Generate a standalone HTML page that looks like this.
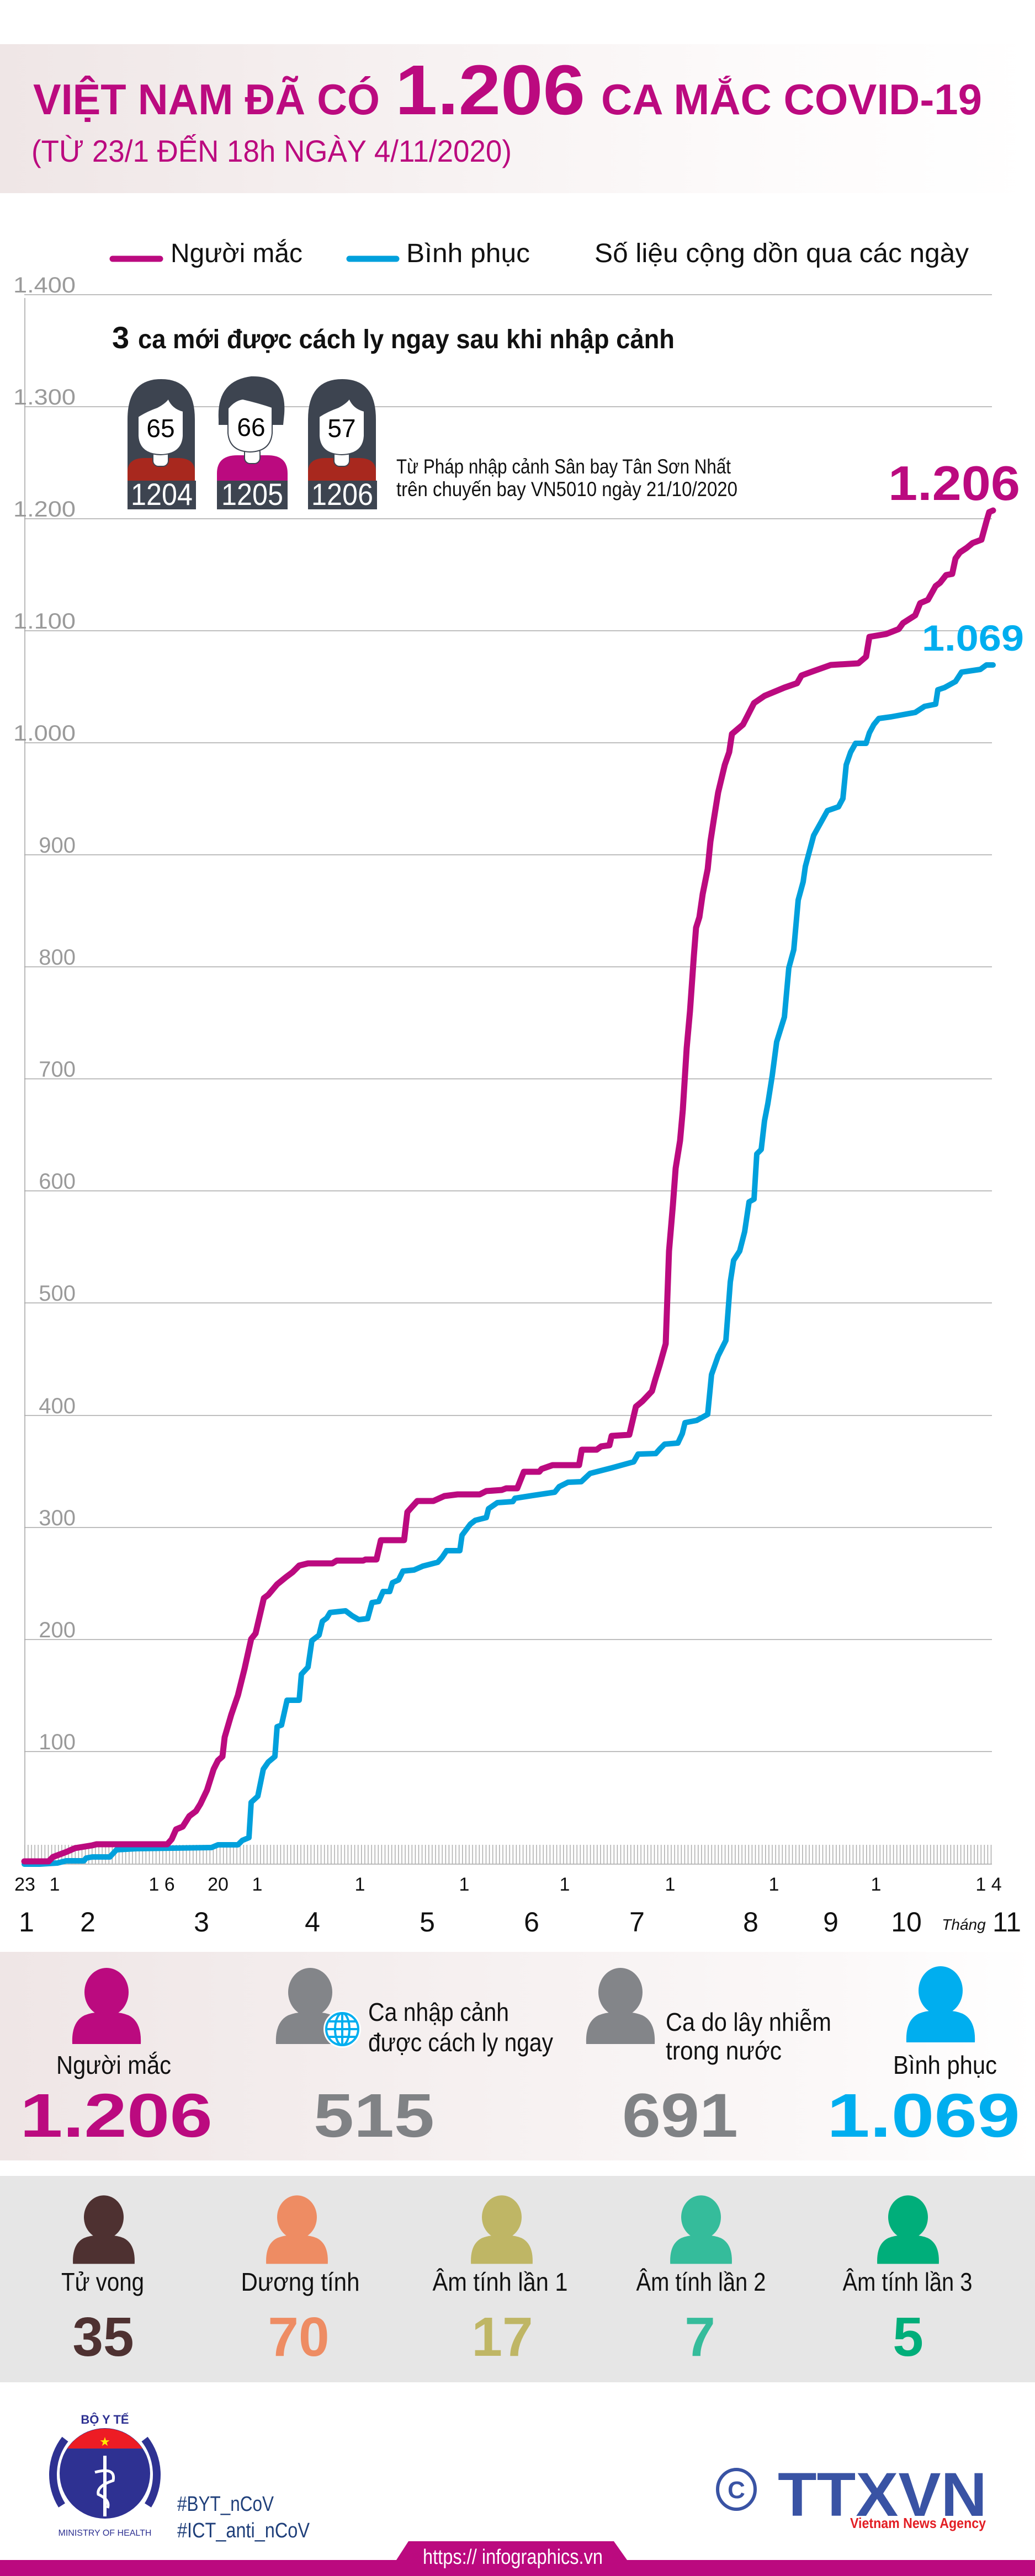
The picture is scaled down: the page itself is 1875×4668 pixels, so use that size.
<!DOCTYPE html>
<html><head><meta charset="utf-8"><style>
html,body{margin:0;padding:0;background:#fff}
svg{display:block}
text{font-family:"Liberation Sans",sans-serif}
</style></head><body>
<svg width="1875" height="4668" viewBox="0 0 1875 4668" xmlns="http://www.w3.org/2000/svg">
<defs>
<linearGradient id="hg" x1="0" x2="1" y1="0" y2="0"><stop offset="0" stop-color="#efe6e6"/><stop offset="0.75" stop-color="#fdfbfb"/><stop offset="1" stop-color="#ffffff"/></linearGradient>
<linearGradient id="pg" x1="0" x2="1" y1="0" y2="0"><stop offset="0" stop-color="#efe6e6"/><stop offset="0.8" stop-color="#fbf8f8"/><stop offset="1" stop-color="#ffffff"/></linearGradient>
<pattern id="tk" x="44" y="0" width="6.1" height="40" patternUnits="userSpaceOnUse"><rect x="0" y="0" width="1.6" height="40" fill="#b0b0b0"/></pattern>
<g id="person"><ellipse cx="0" cy="42" rx="40" ry="44"/><path d="M-62 136 Q-64 96 -40 84 Q-20 76 0 80 Q20 76 40 84 Q64 96 62 136 Z"/></g>
</defs>

<!-- header -->
<rect x="0" y="80" width="1875" height="270" fill="url(#hg)"/>
<g fill="#bb0a7f" font-weight="bold">
<text x="60" y="207" font-size="78" textLength="628" lengthAdjust="spacingAndGlyphs">VIỆT NAM ĐÃ CÓ</text>
<text x="716" y="207" font-size="128" textLength="344" lengthAdjust="spacingAndGlyphs">1.206</text>
<text x="1089" y="207" font-size="78" textLength="690" lengthAdjust="spacingAndGlyphs">CA MẮC COVID-19</text>
</g>
<text x="57" y="293" font-size="56" fill="#bb0a7f" textLength="870" lengthAdjust="spacingAndGlyphs">(TỪ 23/1 ĐẾN 18h NGÀY 4/11/2020)</text>

<!-- legend -->
<line x1="204" y1="469" x2="290" y2="469" stroke="#bb0a7f" stroke-width="11" stroke-linecap="round"/>
<text x="309" y="475" font-size="48" fill="#111" textLength="239" lengthAdjust="spacingAndGlyphs">Người mắc</text>
<line x1="633" y1="469" x2="718" y2="469" stroke="#00a0dc" stroke-width="11" stroke-linecap="round"/>
<text x="736" y="475" font-size="48" fill="#111" textLength="224" lengthAdjust="spacingAndGlyphs">Bình phục</text>
<text x="1077" y="475" font-size="48" fill="#111" textLength="678" lengthAdjust="spacingAndGlyphs">Số liệu cộng dồn qua các ngày</text>

<!-- grid -->
<g stroke="#a8a8a8" stroke-width="1.6">
<line x1="45" y1="540" x2="45" y2="3378"/>
<line x1="44" y1="534" x2="1797" y2="534"/>
<line x1="44" y1="737" x2="1797" y2="737"/>
<line x1="44" y1="940" x2="1797" y2="940"/>
<line x1="44" y1="1143" x2="1797" y2="1143"/>
<line x1="44" y1="1346" x2="1797" y2="1346"/>
<line x1="44" y1="1549" x2="1797" y2="1549"/>
<line x1="44" y1="1752" x2="1797" y2="1752"/>
<line x1="44" y1="1955" x2="1797" y2="1955"/>
<line x1="44" y1="2158" x2="1797" y2="2158"/>
<line x1="44" y1="2361" x2="1797" y2="2361"/>
<line x1="44" y1="2565" x2="1797" y2="2565"/>
<line x1="44" y1="2768" x2="1797" y2="2768"/>
<line x1="44" y1="2971" x2="1797" y2="2971"/>
<line x1="44" y1="3174" x2="1797" y2="3174"/>
<line x1="44" y1="3378" x2="1797" y2="3378"/>
</g>
<rect x="44" y="3343" width="1753" height="35" fill="url(#tk)"/>
<g fill="#9a9a9a" font-size="40" text-anchor="end">
<text x="137" y="530" textLength="113" lengthAdjust="spacingAndGlyphs">1.400</text>
<text x="137" y="733" textLength="113" lengthAdjust="spacingAndGlyphs">1.300</text>
<text x="137" y="936" textLength="113" lengthAdjust="spacingAndGlyphs">1.200</text>
<text x="137" y="1139" textLength="113" lengthAdjust="spacingAndGlyphs">1.100</text>
<text x="137" y="1342" textLength="113" lengthAdjust="spacingAndGlyphs">1.000</text>
<text x="137" y="1545">900</text>
<text x="137" y="1748">800</text>
<text x="137" y="1951">700</text>
<text x="137" y="2154">600</text>
<text x="137" y="2357">500</text>
<text x="137" y="2561">400</text>
<text x="137" y="2764">300</text>
<text x="137" y="2967">200</text>
<text x="137" y="3170">100</text>
</g>

<!-- annotation -->
<text x="203" y="631" font-size="56" font-weight="bold" fill="#111">3</text>
<text x="250" y="631" font-size="48" font-weight="bold" fill="#111" textLength="972" lengthAdjust="spacingAndGlyphs">ca mới được cách ly ngay sau khi nhập cảnh</text>

<!-- faces -->
<g>
<path d="M231 871 L231 760 Q231 687 292 687 Q353 687 353 760 L353 871 Z" fill="#3d4450"/>
<path d="M231 871 L231 855 Q231 830 262 830 L322 830 Q353 830 353 855 L353 871 Z" fill="#a8281e"/>
<rect x="277" y="815" width="28" height="30" rx="10" fill="#fff" stroke="#3d4450" stroke-width="2"/>
<path d="M250 755 Q265 745 285 738 Q300 730 305 722 Q312 740 332 745 L332 790 Q330 823 291 824 Q252 823 250 790 Z" fill="#fff" stroke="#3d4450" stroke-width="2"/>
<rect x="231" y="871" width="124" height="52" fill="#3d4450"/>
<text x="291" y="792" font-size="46" fill="#000" text-anchor="middle">65</text>
<text x="293" y="915" font-size="56" fill="#fff" text-anchor="middle" textLength="112" lengthAdjust="spacingAndGlyphs">1204</text>
</g>
<g>
<path d="M396 760 Q392 690 455 682 Q520 680 515 750 L513 770 L396 770 Z" fill="#3d4450"/>
<path d="M393 871 L393 858 Q393 825 430 825 L485 825 Q521 825 521 858 L521 871 Z" fill="#bb0a7f"/>
<rect x="443" y="810" width="28" height="30" rx="10" fill="#fff" stroke="#3d4450" stroke-width="2"/>
<path d="M413 740 Q425 725 440 723 Q470 730 493 738 L493 785 Q490 818 453 819 Q416 818 413 785 Z" fill="#fff" stroke="#3d4450" stroke-width="2"/>
<rect x="393" y="871" width="128" height="52" fill="#3d4450"/>
<text x="455" y="790" font-size="46" fill="#000" text-anchor="middle">66</text>
<text x="457" y="915" font-size="56" fill="#fff" text-anchor="middle" textLength="112" lengthAdjust="spacingAndGlyphs">1205</text>
</g>
<g>
<path d="M558 871 L558 760 Q558 687 620 687 Q681 687 681 760 L681 871 Z" fill="#3d4450"/>
<path d="M558 871 L558 855 Q558 830 590 830 L650 830 Q681 830 681 855 L681 871 Z" fill="#a8281e"/>
<rect x="605" y="815" width="28" height="30" rx="10" fill="#fff" stroke="#3d4450" stroke-width="2"/>
<path d="M578 755 Q593 745 613 738 Q628 730 633 722 Q640 740 660 745 L660 790 Q658 823 619 824 Q580 823 578 790 Z" fill="#fff" stroke="#3d4450" stroke-width="2"/>
<rect x="558" y="871" width="125" height="52" fill="#3d4450"/>
<text x="619" y="792" font-size="46" fill="#000" text-anchor="middle">57</text>
<text x="620" y="915" font-size="56" fill="#fff" text-anchor="middle" textLength="112" lengthAdjust="spacingAndGlyphs">1206</text>
</g>
<text x="718" y="858" font-size="37" fill="#111" textLength="606" lengthAdjust="spacingAndGlyphs">Từ Pháp nhập cảnh Sân bay Tân Sơn Nhất</text>
<text x="718" y="899" font-size="37" fill="#111" textLength="618" lengthAdjust="spacingAndGlyphs">trên chuyến bay VN5010 ngày 21/10/2020</text>

<text x="1609" y="906" font-size="88" font-weight="bold" fill="#bb0a7f" textLength="239" lengthAdjust="spacingAndGlyphs">1.206</text>
<text x="1670" y="1179" font-size="66" font-weight="bold" fill="#00aeef" textLength="185" lengthAdjust="spacingAndGlyphs">1.069</text>

<!-- series -->
<polyline fill="none" stroke="#00a0dc" stroke-width="10" stroke-linejoin="round" stroke-linecap="round" points="44,3378 72,3378 104,3376 120,3372 152,3372 156,3367 167,3365 199,3365 211,3352 247,3350 383,3348 395,3343 431,3343 439,3335 451,3330 455,3266 467,3255 477,3206 486,3193 498,3183 502,3129 510,3126 520,3081 542,3081 546,3034 558,3021 565,2973 578,2963 584,2938 592,2932 598,2922 626,2919 638,2928 650,2935 666,2933 674,2904 686,2902 694,2884 706,2884 711,2868 722,2863 730,2847 750,2845 766,2838 793,2831 801,2822 809,2810 833,2810 837,2782 852,2762 861,2755 881,2750 885,2734 901,2723 929,2721 933,2715 965,2710 1005,2704 1013,2694 1029,2686 1053,2685 1069,2670 1108,2660 1148,2649 1156,2635 1188,2634 1196,2625 1204,2617 1228,2615 1236,2598 1241,2578 1262,2574 1282,2563 1289,2491 1301,2457 1315,2429 1323,2323 1329,2284 1340,2267 1349,2232 1357,2178 1366,2173 1371,2091 1379,2083 1385,2031 1391,2000 1399,1949 1407,1888 1421,1843 1429,1754 1438,1721 1446,1631 1455,1598 1459,1570 1474,1514 1499,1469 1519,1462 1527,1447 1533,1386 1541,1363 1550,1347 1569,1347 1575,1328 1583,1313 1592,1302 1614,1299 1658,1291 1675,1280 1695,1276 1699,1250 1711,1246 1731,1235 1742,1218 1776,1213 1787,1205 1799,1205"/>
<polyline fill="none" stroke="#bb0a7f" stroke-width="11" stroke-linejoin="round" stroke-linecap="round" points="44,3373 88,3373 96,3365 120,3356 136,3349 167,3344 175,3342 303,3342 311,3333 319,3315 331,3310 343,3291 355,3282 363,3269 375,3244 387,3206 395,3190 403,3183 407,3148 419,3107 431,3072 443,3024 455,2970 463,2960 478,2896 486,2890 502,2871 518,2858 530,2849 542,2837 558,2833 602,2833 610,2828 658,2828 662,2826 682,2826 690,2791 732,2791 738,2740 746,2731 756,2720 785,2720 805,2711 829,2708 869,2708 881,2702 909,2700 917,2697 937,2697 949,2667 977,2667 981,2662 1001,2655 1049,2655 1054,2627 1081,2627 1089,2621 1104,2619 1108,2602 1140,2600 1152,2549 1164,2539 1181,2521 1187,2500 1195,2474 1206,2435 1212,2267 1219,2184 1224,2117 1232,2067 1237,2011 1244,1899 1250,1832 1257,1732 1261,1681 1267,1662 1273,1620 1282,1575 1287,1525 1293,1486 1301,1436 1313,1386 1321,1363 1326,1330 1346,1313 1366,1274 1385,1261 1421,1246 1444,1238 1452,1224 1474,1216 1505,1205 1555,1202 1569,1190 1575,1154 1605,1149 1628,1140 1636,1129 1658,1115 1667,1093 1681,1087 1695,1062 1703,1056 1714,1042 1725,1040 1731,1012 1739,1001 1751,993 1762,984 1778,978 1787,945 1792,928 1799,925"/>

<!-- x labels -->
<g fill="#111" font-size="34" text-anchor="middle">
<text x="45" y="3426">23</text><text x="99" y="3426">1</text><text x="293" y="3426">1 6</text><text x="395" y="3426">20</text>
<text x="466" y="3426">1</text><text x="652" y="3426">1</text><text x="841" y="3426">1</text><text x="1023" y="3426">1</text>
<text x="1214" y="3426">1</text><text x="1402" y="3426">1</text><text x="1587" y="3426">1</text><text x="1791" y="3426">1 4</text>
</g>
<g fill="#111" font-size="50" text-anchor="middle">
<text x="48" y="3500">1</text><text x="159" y="3500">2</text><text x="365" y="3500">3</text><text x="566" y="3500">4</text>
<text x="774" y="3500">5</text><text x="963" y="3500">6</text><text x="1154" y="3500">7</text><text x="1360" y="3500">8</text>
<text x="1505" y="3500">9</text><text x="1642" y="3500">10</text><text x="1824" y="3500">11</text>
</g>
<text x="1746" y="3497" font-size="28" font-style="italic" fill="#111" text-anchor="middle">Tháng</text>

<!-- panel 1 -->
<rect x="0" y="3537" width="1875" height="378" fill="url(#pg)"/>
<use href="#person" transform="translate(193,3568)" fill="#bb0a7f"/>
<text x="206" y="3758" font-size="46" fill="#111" text-anchor="middle" textLength="208" lengthAdjust="spacingAndGlyphs">Người mắc</text>
<text x="36" y="3872" font-size="112" font-weight="bold" fill="#bb0a7f" textLength="349" lengthAdjust="spacingAndGlyphs">1.206</text>
<use href="#person" transform="translate(562,3568)" fill="#838589"/>
<circle cx="620" cy="3677" r="34" fill="#fff"/>
<g fill="none" stroke="#00aeef" stroke-width="4"><circle cx="620" cy="3677" r="29"/><ellipse cx="620" cy="3677" rx="13" ry="29"/><line x1="591" y1="3677" x2="649" y2="3677"/><line x1="594" y1="3663" x2="646" y2="3663"/><line x1="594" y1="3691" x2="646" y2="3691"/><line x1="620" y1="3648" x2="620" y2="3706"/></g>
<text x="667" y="3662" font-size="46" fill="#111" textLength="255" lengthAdjust="spacingAndGlyphs">Ca nhập cảnh</text>
<text x="667" y="3717" font-size="46" fill="#111" textLength="335" lengthAdjust="spacingAndGlyphs">được cách ly ngay</text>
<text x="568" y="3872" font-size="112" font-weight="bold" fill="#808285" textLength="219" lengthAdjust="spacingAndGlyphs">515</text>
<use href="#person" transform="translate(1124,3568)" fill="#838589"/>
<text x="1206" y="3680" font-size="46" fill="#111" textLength="300" lengthAdjust="spacingAndGlyphs">Ca do lây nhiễm</text>
<text x="1206" y="3732" font-size="46" fill="#111" textLength="210" lengthAdjust="spacingAndGlyphs">trong nước</text>
<text x="1127" y="3872" font-size="112" font-weight="bold" fill="#808285" textLength="210" lengthAdjust="spacingAndGlyphs">691</text>
<use href="#person" transform="translate(1704,3565)" fill="#00aeef"/>
<text x="1712" y="3758" font-size="46" fill="#111" text-anchor="middle" textLength="188" lengthAdjust="spacingAndGlyphs">Bình phục</text>
<text x="1498" y="3872" font-size="112" font-weight="bold" fill="#00aeef" textLength="350" lengthAdjust="spacingAndGlyphs">1.069</text>

<!-- panel 2 -->
<rect x="0" y="3943" width="1875" height="374" fill="#e6e6e6"/>
<use href="#person" transform="translate(188,3980) scale(0.9)" fill="#4e3131"/>
<use href="#person" transform="translate(538,3980) scale(0.9)" fill="#ee8c63"/>
<use href="#person" transform="translate(909,3980) scale(0.9)" fill="#bfb665"/>
<use href="#person" transform="translate(1270,3980) scale(0.9)" fill="#35bc9b"/>
<use href="#person" transform="translate(1645,3980) scale(0.9)" fill="#00ae7a"/>
<g font-size="46" fill="#111" text-anchor="middle">
<text x="186" y="4151" textLength="150" lengthAdjust="spacingAndGlyphs">Tử vong</text>
<text x="544" y="4151" textLength="215" lengthAdjust="spacingAndGlyphs">Dương tính</text>
<text x="906" y="4151" textLength="245" lengthAdjust="spacingAndGlyphs">Âm tính lần 1</text>
<text x="1270" y="4151" textLength="235" lengthAdjust="spacingAndGlyphs">Âm tính lần 2</text>
<text x="1644" y="4151" textLength="235" lengthAdjust="spacingAndGlyphs">Âm tính lần 3</text>
</g>
<g font-size="100" font-weight="bold" text-anchor="middle">
<text x="187" y="4269" fill="#4e3131">35</text>
<text x="541" y="4269" fill="#ee8c63">70</text>
<text x="910" y="4269" fill="#bfb665">17</text>
<text x="1268" y="4269" fill="#35bc9b">7</text>
<text x="1645" y="4269" fill="#00ae7a">5</text>
</g>

<!-- footer -->
<g>
<path d="M118 4420 A105 105 0 0 0 112 4540" fill="none" stroke="#2e3192" stroke-width="14"/>
<path d="M262 4420 A105 105 0 0 1 268 4540" fill="none" stroke="#2e3192" stroke-width="14"/>
<circle cx="190" cy="4482" r="82" fill="#2e3192"/>
<path d="M122 4437 A82 82 0 0 1 258 4437 Z" fill="#ed1c24"/>
<text x="190" y="4432" font-size="22" fill="#ffed00" text-anchor="middle">★</text>
<line x1="190" y1="4450" x2="190" y2="4560" stroke="#fff" stroke-width="6"/>
<path d="M172 4480 Q210 4470 205 4495 Q175 4505 178 4520 Q200 4530 195 4545" fill="none" stroke="#fff" stroke-width="5"/>
<text x="190" y="4392" font-size="22" font-weight="bold" fill="#2e3192" text-anchor="middle">BỘ Y TẾ</text>
<text x="190" y="4595" font-size="16" fill="#2e3192" text-anchor="middle">MINISTRY OF HEALTH</text>
</g>
<text x="321" y="4550" font-size="38" fill="#1f3f7a" textLength="175" lengthAdjust="spacingAndGlyphs">#BYT_nCoV</text>
<text x="321" y="4598" font-size="38" fill="#1f3f7a" textLength="240" lengthAdjust="spacingAndGlyphs">#ICT_anti_nCoV</text>
<ellipse cx="1334" cy="4511" rx="34" ry="36" fill="none" stroke="#3953a4" stroke-width="6"/>
<text x="1334" y="4527" font-size="44" font-weight="bold" fill="#3953a4" text-anchor="middle">C</text>
<text x="1409" y="4559" font-size="112" font-weight="bold" fill="#3953a4" textLength="379" lengthAdjust="spacingAndGlyphs">TTXVN</text>
<text x="1540" y="4581" font-size="26" font-weight="bold" fill="#e31e24" textLength="246" lengthAdjust="spacingAndGlyphs">Vietnam News Agency</text>
<rect x="0" y="4639" width="1875" height="29" fill="#bb0a7f"/>
<path d="M718 4639 L740 4605 L1112 4605 L1136 4639 Z" fill="#bb0a7f"/>
<text x="766" y="4646" font-size="38" fill="#fff" textLength="326" lengthAdjust="spacingAndGlyphs">https:// infographics.vn</text>
</svg>
</body></html>
